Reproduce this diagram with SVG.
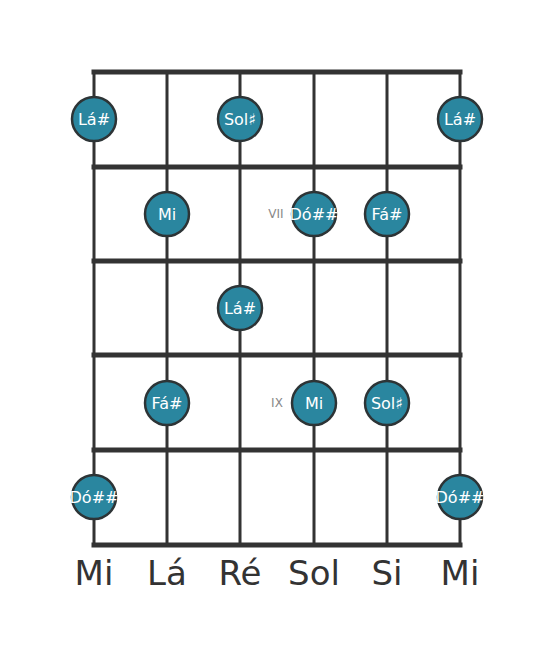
<svg xmlns="http://www.w3.org/2000/svg" width="555" height="656" viewBox="0 0 555 656">
<style>
.fret{stroke:#333;stroke-width:5;stroke-linecap:square}
.str{stroke:#333;stroke-width:3}
.dot{fill:#2a869f;stroke:#2d3436;stroke-width:2.5}
.nt{font-family:"DejaVu Sans",sans-serif;font-size:16px;fill:#fff;text-anchor:middle;dominant-baseline:central}
.rn{font-family:"DejaVu Sans",sans-serif;font-size:12px;fill:#888;text-anchor:middle;dominant-baseline:central}
.sl{font-family:"DejaVu Sans",sans-serif;font-size:34px;fill:#333;text-anchor:middle}
</style>
<rect width="555" height="656" fill="#fff"/>
<g id="grid">
<line class="str" x1="94" y1="72" x2="94" y2="545"/>
<line class="str" x1="167" y1="72" x2="167" y2="545"/>
<line class="str" x1="240" y1="72" x2="240" y2="545"/>
<line class="str" x1="314" y1="72" x2="314" y2="545"/>
<line class="str" x1="387" y1="72" x2="387" y2="545"/>
<line class="str" x1="460" y1="72" x2="460" y2="545"/>
<line class="fret" x1="94" y1="72" x2="460" y2="72"/>
<line class="fret" x1="94" y1="167" x2="460" y2="167"/>
<line class="fret" x1="94" y1="261" x2="460" y2="261"/>
<line class="fret" x1="94" y1="355" x2="460" y2="355"/>
<line class="fret" x1="94" y1="450" x2="460" y2="450"/>
<line class="fret" x1="94" y1="545" x2="460" y2="545"/>
</g>
<g id="fret-numbers">
<text class="rn" x="276" y="214">VII</text>
<text class="rn" x="277" y="403">IX</text>
</g>
<g id="n1"><circle class="dot" cx="94" cy="119" r="22"/><text class="nt" x="94" y="119">Lá#</text></g>
<g id="n2"><circle class="dot" cx="240" cy="119" r="22"/><text class="nt" x="240" y="119">Sol♯</text></g>
<g id="n3"><circle class="dot" cx="460" cy="119" r="22"/><text class="nt" x="460" y="119">Lá#</text></g>
<g id="n4"><circle class="dot" cx="167" cy="214" r="22"/><text class="nt" x="167" y="214">Mi</text></g>
<g id="n5"><circle class="dot" cx="314" cy="214" r="22"/><text class="nt" x="314" y="214">Dó##</text></g>
<g id="n6"><circle class="dot" cx="387" cy="214" r="22"/><text class="nt" x="387" y="214">Fá#</text></g>
<g id="n7"><circle class="dot" cx="240" cy="308" r="22"/><text class="nt" x="240" y="308">Lá#</text></g>
<g id="n8"><circle class="dot" cx="167" cy="403" r="22"/><text class="nt" x="167" y="403">Fá#</text></g>
<g id="n9"><circle class="dot" cx="314" cy="403" r="22"/><text class="nt" x="314" y="403">Mi</text></g>
<g id="n10"><circle class="dot" cx="387" cy="403" r="22"/><text class="nt" x="387" y="403">Sol♯</text></g>
<g id="n11"><circle class="dot" cx="94" cy="497" r="22"/><text class="nt" x="94" y="497">Dó##</text></g>
<g id="n12"><circle class="dot" cx="460" cy="497" r="22"/><text class="nt" x="460" y="497">Dó##</text></g>
<g id="string-names">
<text class="sl" x="94" y="585">Mi</text>
<text class="sl" x="167" y="585">Lá</text>
<text class="sl" x="240" y="585">Ré</text>
<text class="sl" x="314" y="585">Sol</text>
<text class="sl" x="387" y="585">Si</text>
<text class="sl" x="460" y="585">Mi</text>
</g>
</svg>
